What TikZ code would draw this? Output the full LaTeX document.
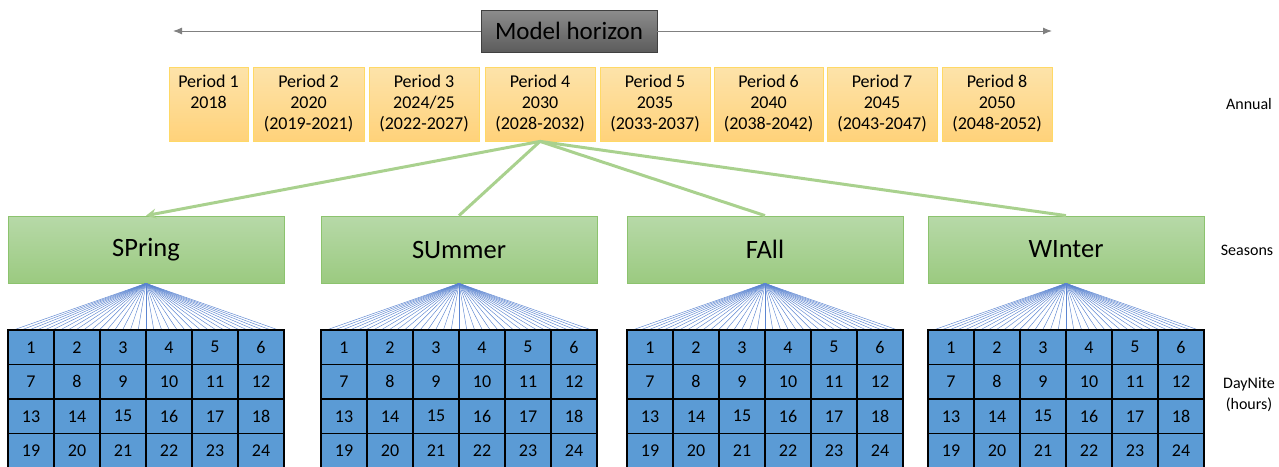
\documentclass[tikz,border=0pt]{standalone}
\usepackage{fontspec}
\setmainfont{Carlito}
\usetikzlibrary{calc,arrows.meta}
\definecolor{pertop}{HTML}{FDE3AA}
\definecolor{perbot}{HTML}{FFD27A}
\definecolor{perdraw}{HTML}{FFD966}
\definecolor{seatop}{HTML}{B7D9A8}
\definecolor{seabot}{HTML}{9BCA80}
\definecolor{seadraw}{HTML}{8CC36E}
\definecolor{conngreen}{HTML}{A9D18E}
\definecolor{cellblue}{HTML}{5B9BD5}
\definecolor{fanblue}{HTML}{5B84D0}
\definecolor{hortop}{HTML}{8C8C8C}
\definecolor{horbot}{HTML}{5C5C5C}
\tikzset{
  perbox/.style={draw=perdraw, line width=0.8pt, top color=pertop, bottom color=perbot,
    minimum height=74pt, inner sep=0pt, align=center, anchor=center,
    font=\fontsize{18}{21}\selectfont},
  seabox/.style={draw=seadraw, line width=0.8pt, top color=seatop, bottom color=seabot,
    minimum width=276pt, minimum height=67pt, inner sep=0pt,
    font=\fontsize{26.5}{30}\selectfont},
  cellbox/.style={draw=black, line width=1.1pt, fill=cellblue, minimum width=46pt,
    minimum height=34.5pt, inner sep=0pt, font=\fontsize{18}{21}\selectfont},
  conn/.style={draw=conngreen, line width=3pt},
  fanline/.style={draw=fanblue, line width=0.45pt},
  horline/.style={draw=gray, line width=1pt},
  sidelabel/.style={font=\fontsize{16}{21}\selectfont, align=center}
}
\begin{document}
\begin{tikzpicture}[x=1pt,y=-1pt]
\useasboundingbox (0,0) rectangle (1279,466);
\clip (0,0) rectangle (1279,466);
% model horizon
\node[draw=black!75, line width=0.8pt, top color=hortop, bottom color=horbot,
  minimum width=176pt, minimum height=42pt, inner sep=0pt,
  font=\fontsize{25}{30}\selectfont] (mh) at (569,31) {Model horizon};
\coordinate (hl) at (173,31);
\coordinate (hr) at (1052,31);
\draw[horline, -{Latex[length=9pt,width=7pt]}] (mh.west) -- (hl);
\draw[horline, -{Latex[length=9pt,width=7pt]}] (mh.east) -- (hr);
% periods
\node[perbox, minimum width=79pt]  (p1) at (208.5,104) {\raisebox{-2pt}{\begin{tabular}{@{}c@{}}Period 1\\2018\\\phantom{(2019)}\end{tabular}}};
\node[perbox, minimum width=111pt] (p2) at (308.5,104) {\raisebox{-2pt}{\begin{tabular}{@{}c@{}}Period 2\\2020\\(2019-2021)\end{tabular}}};
\node[perbox, minimum width=110pt] (p3) at (424,104)   {\raisebox{-2pt}{\begin{tabular}{@{}c@{}}Period 3\\2024/25\\(2022-2027)\end{tabular}}};
\node[perbox, minimum width=110pt] (p4) at (540,104)   {\raisebox{-2pt}{\begin{tabular}{@{}c@{}}Period 4\\2030\\(2028-2032)\end{tabular}}};
\node[perbox, minimum width=110pt] (p5) at (655,104)   {\raisebox{-2pt}{\begin{tabular}{@{}c@{}}Period 5\\2035\\(2033-2037)\end{tabular}}};
\node[perbox, minimum width=109pt] (p6) at (768.5,104) {\raisebox{-2pt}{\begin{tabular}{@{}c@{}}Period 6\\2040\\(2038-2042)\end{tabular}}};
\node[perbox, minimum width=110pt] (p7) at (882,104)   {\raisebox{-2pt}{\begin{tabular}{@{}c@{}}Period 7\\2045\\(2043-2047)\end{tabular}}};
\node[perbox, minimum width=110pt] (p8) at (997,104)   {\raisebox{-2pt}{\begin{tabular}{@{}c@{}}Period 8\\2050\\(2048-2052)\end{tabular}}};
% seasons
\node[seabox] (s1) at (146,249.5)  {SPring};
\node[seabox] (s2) at (459,249.5)  {SUmmer};
\node[seabox] (s3) at (765,249.5)  {FAll};
\node[seabox] (s4) at (1066,249.5) {WInter};
% connectors
\draw[conn, -{Stealth[length=10pt,width=10pt]}] (p4.south) -- (s1.north);
\draw[conn] (p4.south) -- (s2.north);
\draw[conn] (p4.south) -- (s3.north);
\draw[conn] (p4.south) -- (s4.north);
% grids
\foreach \s/\cx in {1/146,2/459,3/765,4/1066}{
  \coordinate (gt\s) at (\cx,330);
  \foreach \k in {0,...,34}{
    \draw[fanline] (s\s.south) -- ($(gt\s)+({(\k-17)*7.8},0)$);
  }
  \foreach \r in {0,...,3}{
    \foreach \c in {0,...,5}{
      \pgfmathtruncatemacro{\n}{\r*6+\c+1}
      \node[cellbox] (g\s-\n) at ({\cx-115+\c*46},{347.25+\r*34.5}) {\n};
    }
  }
}
% side labels
\node[sidelabel] (la) at (1249,104) {Annual};
\node[sidelabel] (ls) at (1247,250) {Seasons};
\node[sidelabel] (ld) at (1249,395) {DayNite\\(hours)};
\end{tikzpicture}
\end{document}
